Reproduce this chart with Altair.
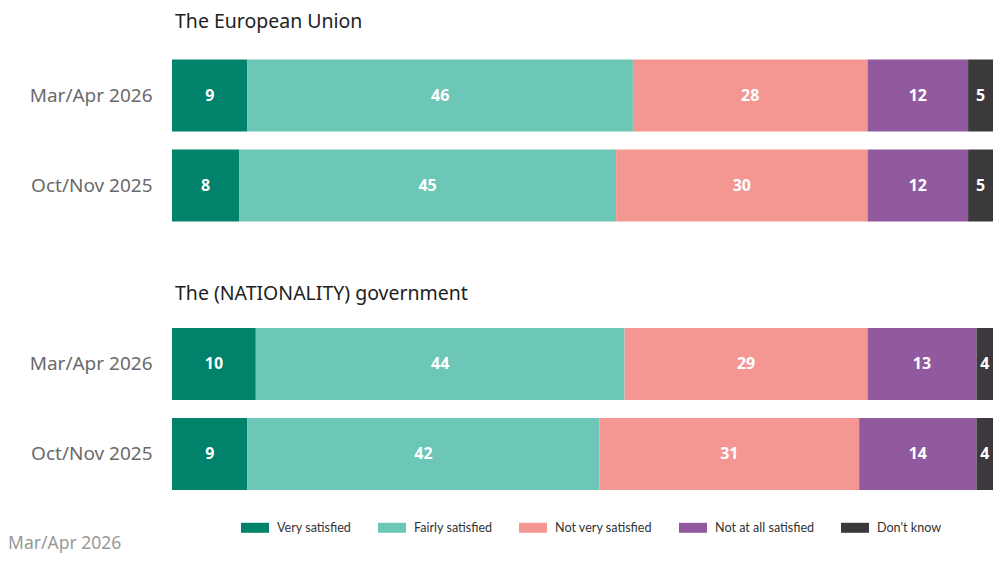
import altair as alt
import pandas as pd

groups = ["The European Union", "The (NATIONALITY) government"]
waves = ["Mar/Apr 2026", "Oct/Nov 2025"]
categories = ["Very satisfied", "Fairly satisfied", "Not very satisfied",
              "Not at all satisfied", "Don't know"]
colors = ["#00826B", "#6DC7B6", "#F49793", "#915A9E", "#3B393C"]

eu_mar = [9, 46, 28, 12, 5]
eu_oct = [8, 45, 30, 12, 5]
gov_mar = [10, 44, 29, 13, 4]
gov_oct = [9, 42, 31, 14, 4]

series = {
    (groups[0], waves[0]): eu_mar,
    (groups[0], waves[1]): eu_oct,
    (groups[1], waves[0]): gov_mar,
    (groups[1], waves[1]): gov_oct,
}

rows = []
for (g, w), vals in series.items():
    for i, (c, v) in enumerate(zip(categories, vals)):
        rows.append({"group": g, "wave": w, "category": c, "order": i, "value": v})
df = pd.DataFrame(rows)

FONT = "Noto Sans"
VISIBLE_MAX = 98  # right edge of the visible part of the bars


def panel(g, title_offset):
    base = alt.Chart(df).transform_filter(
        alt.datum.group == g
    ).transform_stack(
        stack="value", groupby=["group", "wave"],
        sort=[alt.SortField("order")], as_=["x0", "x1"]
    ).transform_calculate(
        mid=f"(datum.x0 + min(datum.x1, {VISIBLE_MAX})) / 2"
    )

    y = alt.Y("wave:N", sort=waves, title=None,
              scale=alt.Scale(paddingInner=0.2, paddingOuter=0.1),
              axis=alt.Axis(labelFontSize=19, labelColor="#6a6a6a", labelFont=FONT,
                            labelPadding=20, ticks=False, domain=False, grid=False))
    xs = alt.Scale(domain=[0, 100], nice=False)

    bars = base.mark_bar(stroke=None).encode(
        y=y,
        x=alt.X("x0:Q", scale=xs, axis=None),
        x2="x1:Q",
        color=alt.Color("category:N", sort=categories,
                        scale=alt.Scale(domain=categories, range=colors),
                        legend=alt.Legend(
                            title=None, orient="none", direction="horizontal",
                            legendX=69, legendY=463,
                            symbolType="M-1,-0.357H1V0.357H-1Z", symbolSize=784,
                            symbolStrokeWidth=0, symbolOpacity=1,
                            labelFont="Lato", labelFontSize=12.6, labelColor="#333333",
                            labelOffset=8, columnPadding=26)),
    )
    text = base.mark_text(color="white", font=FONT, fontWeight="bold", fontSize=16).encode(
        y=alt.Y("wave:N", sort=waves),
        x=alt.X("mid:Q", scale=xs),
        text="value:Q",
    )
    return alt.layer(bars, text).properties(
        width=838, height=180,
        title=alt.TitleParams(g, anchor="start", frame="group", fontSize=19.5, font=FONT,
                              fontWeight="normal", color="#222222",
                              offset=title_offset, dx=3),
    )


chart = alt.vconcat(panel(groups[0], 18), panel(groups[1], 14.5), spacing=53.5).properties(
    padding={"left": 0, "right": -17, "top": 3.6, "bottom": 0},
    title=alt.TitleParams("Mar/Apr 2026", orient="bottom", anchor="start",
                          frame="bounds", fontSize=17.5, font=FONT,
                          fontWeight="normal", color="#999999", dx=-21, offset=0.5),
).configure_view(stroke=None)

chart.save("out.html", embed_options={"renderer": "svg", "actions": False})
